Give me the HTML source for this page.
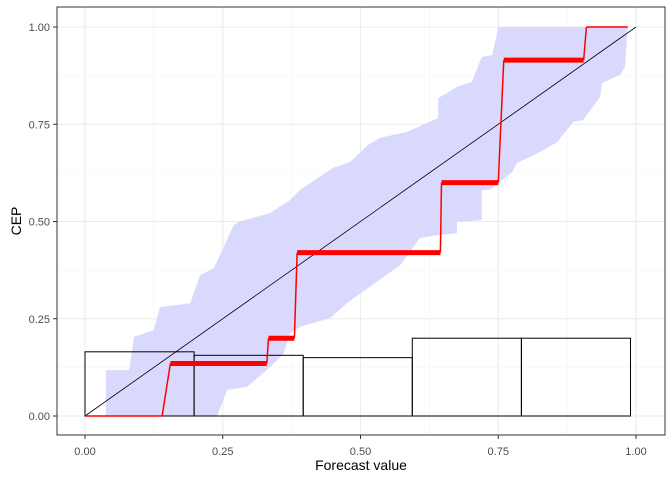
<!DOCTYPE html>
<html><head><meta charset="utf-8"><style>
body{margin:0;background:#fff;}
svg{display:block;font-family:"Liberation Sans",sans-serif;}
</style></head><body>
<svg id="chart" width="672" height="480">
<rect width="672" height="480" fill="#fff"/>
<g id="grid"></g>
<g id="band"></g>
<g id="bars"></g>
<g id="diag"></g>
<g id="steps"></g>
<rect x="57" y="7" width="608" height="428" fill="none" stroke="#333" stroke-width="1"/>
<g id="axes"></g>
<text x="361" y="470" text-anchor="middle" font-size="14" fill="#000">Forecast value</text>
<text transform="translate(21,221) rotate(-90)" text-anchor="middle" font-size="14" fill="#000">CEP</text>
</svg>
<script>
const ticks=[0,0.25,0.5,0.75,1];
const tickLabels=["0.00","0.25","0.50","0.75","1.00"];
const binEdges=[0,0.198,0.396,0.594,0.792,0.99];
const binHeights=[0.165,0.156,0.15,0.2,0.2];
const stepX=[0,0.14,0.155,0.33,0.333,0.38,0.385,0.645,0.647,0.75,0.76,0.905,0.91,0.985];
const stepY=[0,0,0.135,0.135,0.2,0.2,0.42,0.42,0.6,0.6,0.915,0.915,1,1];
const bandUpperX=[0.038,0.038,0.080,0.089,0.125,0.136,0.191,0.209,0.234,0.270,0.279,0.336,0.372,0.390,0.450,0.481,0.514,0.535,0.584,0.641,0.641,0.675,0.702,0.720,0.739,0.750,0.985];
const bandUpperY=[0,0.118,0.118,0.203,0.221,0.280,0.290,0.362,0.380,0.491,0.499,0.522,0.555,0.581,0.638,0.653,0.697,0.715,0.730,0.766,0.817,0.846,0.859,0.923,0.928,1.0,1.0];
const bandLowerX=[0.985,0.980,0.971,0.938,0.935,0.920,0.904,0.886,0.857,0.826,0.784,0.775,0.735,0.720,0.720,0.675,0.675,0.641,0.608,0.572,0.475,0.445,0.390,0.372,0.361,0.336,0.294,0.258,0.240];
const bandLowerY=[0.997,0.897,0.877,0.856,0.820,0.792,0.761,0.756,0.704,0.679,0.650,0.627,0.581,0.581,0.504,0.499,0.470,0.465,0.458,0.388,0.290,0.252,0.229,0.213,0.162,0.126,0.075,0.067,0];
const X=v=>85+v*551, Y=v=>416-v*389;
const NS="http://www.w3.org/2000/svg";
function mk(t,a,p){const e=document.createElementNS(NS,t);for(const k in a)e.setAttribute(k,a[k]);p.appendChild(e);return e;}
const grid=document.getElementById('grid');
for(let i=0;i<ticks.length;i++){
  const gx=mk('line',{x1:X(ticks[i]),x2:X(ticks[i]),y1:7,y2:435,stroke:'#ebebeb','stroke-width':1.1},grid);
  
  
  const gy=mk('line',{x1:57,x2:665,y1:Y(ticks[i]),y2:Y(ticks[i]),stroke:'#ebebeb','stroke-width':1.1},grid);
  
  
  if(i<ticks.length-1){const m=(ticks[i]+ticks[i+1])/2;
    const mx=mk('line',{x1:X(m),x2:X(m),y1:7,y2:435,stroke:'#f3f3f3','stroke-width':0.6},grid);
    
    
    const my=mk('line',{x1:57,x2:665,y1:Y(m),y2:Y(m),stroke:'#f3f3f3','stroke-width':0.6},grid);
    
    }
}
let pts=[];
for(let i=0;i<bandUpperX.length;i++)pts.push(X(bandUpperX[i])+','+Y(bandUpperY[i]));
for(let i=0;i<bandLowerX.length;i++)pts.push(X(bandLowerX[i])+','+Y(bandLowerY[i]));
const band=mk('polygon',{points:pts.join(' '),fill:'#d9d9fd',stroke:'none'},document.getElementById('band'));


const bars=document.getElementById('bars');
for(let i=0;i<binHeights.length;i++){
  const r=mk('rect',{x:X(binEdges[i]),y:Y(binHeights[i]),width:X(binEdges[i+1])-X(binEdges[i]),height:Y(0)-Y(binHeights[i]),fill:'none',stroke:'#000','stroke-width':1},bars);
  
  
}
const d=mk('line',{x1:X(0),y1:Y(0),x2:X(1),y2:Y(1),stroke:'#000','stroke-width':0.8},document.getElementById('diag'));


const steps=document.getElementById('steps');
for(let i=0;i<stepX.length-1;i++){
  const flat=stepY[i]===stepY[i+1];
  const w=(flat && stepY[i]>0 && stepY[i]<1)?5:1.5;
  const s=mk('line',{x1:X(stepX[i]),y1:Y(stepY[i]),x2:X(stepX[i+1]),y2:Y(stepY[i+1]),stroke:'#ff0000','stroke-width':w},steps);
  
  
}
const axes=document.getElementById('axes');
for(let i=0;i<ticks.length;i++){
  mk('line',{x1:X(ticks[i]),x2:X(ticks[i]),y1:435,y2:439,stroke:'#333'},axes);
  const tx=mk('text',{x:X(ticks[i]),y:455,'text-anchor':'middle','font-size':11,fill:'#4d4d4d'},axes);
  tx.textContent=tickLabels[i];
  
  
  mk('line',{x1:53,x2:57,y1:Y(ticks[i]),y2:Y(ticks[i]),stroke:'#333'},axes);
  const ty=mk('text',{x:50,y:Y(ticks[i])+4,'text-anchor':'end','font-size':11,fill:'#4d4d4d'},axes);
  ty.textContent=tickLabels[i];
  
  
}
</script>
</body></html>
